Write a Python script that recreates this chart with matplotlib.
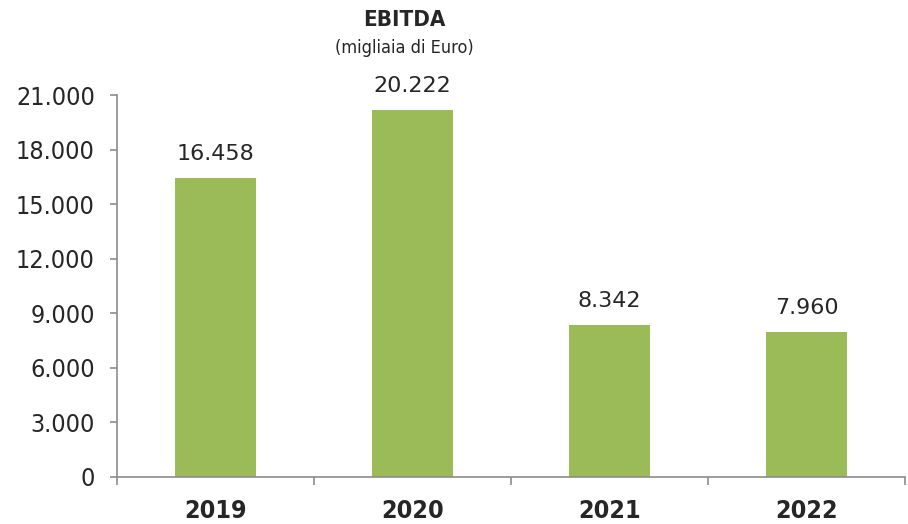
import numpy as np
import matplotlib
matplotlib.use("Agg")
import matplotlib.pyplot as plt
from matplotlib.ticker import FuncFormatter

years = ["2019", "2020", "2021", "2022"]
ebitda = [16458, 20222, 8342, 7960]
yticks = [0, 3000, 6000, 9000, 12000, 15000, 18000, 21000]

green = "#9BBB59"
txt = "#262626"
grey = "#8C8C8C"

plt.rcParams['font.family'] = ['DejaVu Sans']

def it_fmt(v, pos=None):
    return "{:,.0f}".format(v).replace(",", ".")

fig = plt.figure(figsize=(9.08, 5.24), dpi=100)
ax = fig.add_axes([0.129, 0.09, 0.868, 0.728])

x = np.arange(len(years))
ax.bar(x, ebitda, width=0.41, color=green, zorder=2)

for xi, v in zip(x, ebitda):
    ax.annotate(it_fmt(v), (xi, v), xytext=(0, 10), textcoords="offset points",
                ha="center", va="bottom", fontsize=16, color=txt, annotation_clip=False)

ax.set_xlim(-0.5, len(years) - 0.5)
ax.set_ylim(0, 21000)
ax.set_yticks(yticks)
ax.yaxis.set_major_formatter(FuncFormatter(it_fmt))

# category ticks sit on the boundaries between bars
ax.set_xticks(np.arange(len(years) + 1) - 0.5)
ax.set_xticklabels([])
ax.set_xticks(x, minor=True)
ax.set_xticklabels(years, minor=True, fontsize=18, fontweight="bold", color=txt,
                   fontstretch="condensed")
ax.tick_params(axis="x", which="minor", length=0, pad=16)
ax.tick_params(axis="x", which="major", length=6, color=grey, width=1.2)
ax.tick_params(axis="y", length=5, color=grey, width=1.2, labelcolor=txt, pad=11)
for lbl in ax.get_yticklabels():
    lbl.set_fontsize(18)
    lbl.set_fontstretch("condensed")

for s in ["top", "right"]:
    ax.spines[s].set_visible(False)
for s in ["left", "bottom"]:
    ax.spines[s].set_color(grey)
    ax.spines[s].set_linewidth(1.2)

fig.text(0.445, 0.962, "EBITDA", ha="center", va="center", fontsize=16, fontweight="bold",
         fontstretch="condensed", color=txt)
fig.text(0.445, 0.908, "(migliaia di Euro)", ha="center", va="center", fontsize=13,
         fontstretch="condensed", color=txt)

plt.savefig("out.png", dpi=100)
plt.close()
